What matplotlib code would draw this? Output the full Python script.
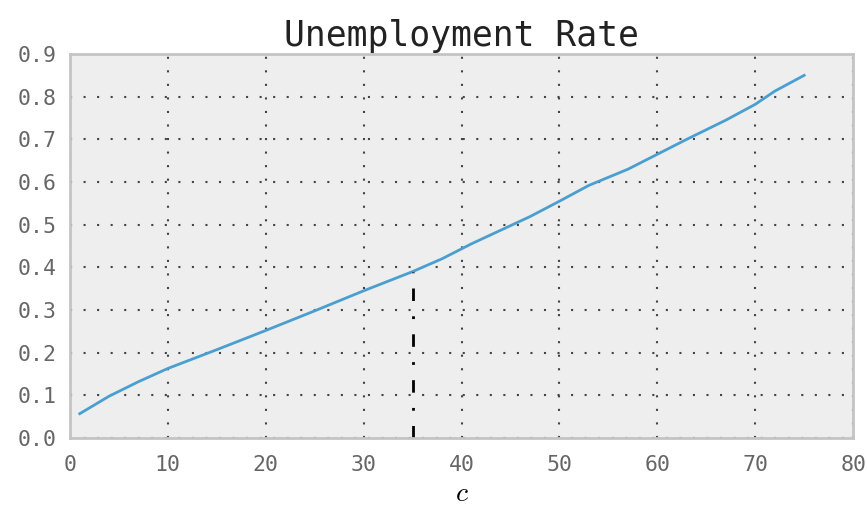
import matplotlib
matplotlib.use("Agg")
import matplotlib.pyplot as plt

# values
c_vals = [1, 4, 7, 10, 15, 20, 25, 30, 35, 38, 41, 44, 47, 50, 53, 57, 60, 63, 67, 70, 72, 75]
rate = [0.057, 0.098, 0.132, 0.163, 0.207, 0.252, 0.298, 0.345, 0.390, 0.420, 0.455, 0.487, 0.519, 0.555, 0.592, 0.630, 0.665, 0.700, 0.745, 0.782, 0.813, 0.850]
c_mark = 35
rate_mark = 0.390
x_ticks = [0, 10, 20, 30, 40, 50, 60, 70, 80]
y_ticks = [0.0, 0.1, 0.2, 0.3, 0.4, 0.5, 0.6, 0.7, 0.8, 0.9]

plt.rcParams['font.family'] = 'DejaVu Sans Mono'
plt.rcParams['mathtext.fontset'] = 'cm'

fig = plt.figure(figsize=(8.67, 5.08), dpi=100)
ax = fig.add_axes([0.0807, 0.1378, 0.9033, 0.7559])
ax.set_facecolor('#eeeeee')
for s in ax.spines.values():
    s.set_color('#c4c4c4')
    s.set_linewidth(2)

ax.plot(c_vals, rate, color='#4a9fd0', lw=2)
ax.plot([c_mark, c_mark], [0, rate_mark], color='black', lw=2,
        linestyle=(0, (4.5, 5.5, 1, 5.5)))

ax.set_xlim(0, 80)
ax.set_ylim(0, 0.9)
ax.set_xticks(x_ticks)
ax.set_yticks(y_ticks)
ax.set_yticklabels([f'{v:.1f}' for v in y_ticks])
ax.tick_params(length=0, labelsize=15.5, labelcolor='#666666')
ax.tick_params(axis='x', pad=12)
ax.tick_params(axis='y', pad=9.5)
ax.grid(True, color='#444444', linestyle=(0, (1, 5.5)), lw=1.5)
ax.set_axisbelow(True)

ax.set_title('Unemployment Rate', fontsize=25, pad=6, color='#222222')
ax.set_xlabel('$c$', fontsize=20, labelpad=3)

fig.savefig('out.png', dpi=100)
